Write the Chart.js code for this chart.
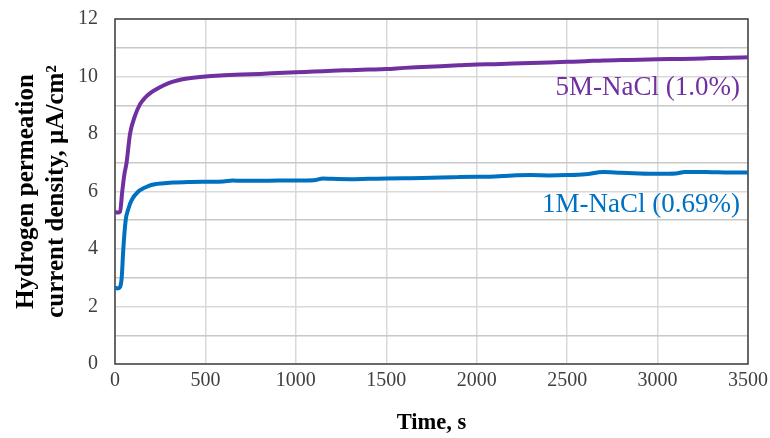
<!DOCTYPE html>
<html>
<head>
<meta charset="utf-8">
<script src="https://cdn.jsdelivr.net/npm/chart.js@4"></script>
<style>
  body { margin: 0; background: #fff; }
  #wrap { width: 770px; height: 438px; }
</style>
</head>
<body>
<div id="wrap"><canvas id="permChart"></canvas></div>
<script>
// 5M-NaCl run
const time5M = [0, 15, 28, 40, 52, 64, 83, 110, 138, 166, 200, 240, 300, 350, 400, 500, 600, 700, 800, 900,
  1000, 1100, 1200, 1300, 1400, 1500, 1600, 1700, 1800, 1900, 2000, 2100, 2200, 2300, 2400, 2500,
  2600, 2700, 2800, 2900, 3000, 3100, 3200, 3300, 3400, 3500];
const current5M = [5.28, 5.27, 5.30, 6.0, 6.6, 7.0, 8.0, 8.62, 9.03, 9.26, 9.45, 9.6, 9.78, 9.87, 9.93, 10.0, 10.04, 10.07, 10.09, 10.12,
  10.15, 10.17, 10.2, 10.22, 10.24, 10.26, 10.3, 10.33, 10.36, 10.39, 10.42, 10.43, 10.45, 10.47, 10.49, 10.51,
  10.53, 10.56, 10.57, 10.58, 10.6, 10.61, 10.62, 10.64, 10.65, 10.67];

// 1M-NaCl run
const time1M = [0, 15, 28, 37, 46, 59, 74, 92, 129, 160, 184, 220, 258, 320, 405, 500, 600, 650, 700, 800, 900,
  1000, 1100, 1150, 1200, 1300, 1400, 1500, 1600, 1700, 1800, 1900, 2000, 2100, 2200, 2300, 2400, 2500,
  2600, 2700, 2800, 2900, 3000, 3100, 3150, 3200, 3300, 3400, 3500];
const current1M = [2.65, 2.63, 2.68, 3.0, 4.0, 5.0, 5.4, 5.7, 6.0, 6.12, 6.19, 6.25, 6.28, 6.31, 6.33, 6.34, 6.35, 6.38, 6.37, 6.37, 6.38,
  6.38, 6.39, 6.45, 6.44, 6.43, 6.44, 6.45, 6.46, 6.47, 6.49, 6.5, 6.51, 6.52, 6.56, 6.57, 6.56, 6.57,
  6.6, 6.68, 6.65, 6.63, 6.62, 6.63, 6.68, 6.68, 6.67, 6.66, 6.66];

const seriesNames = ['5M-NaCl (1.0%)', '1M-NaCl (0.69%)'];
const seriesColors = ['#7030A0', '#0070C0'];

const serif = "'Liberation Serif', 'Times New Roman', serif";

function toPoints(xs, ys) {
  return xs.map((x, i) => ({ x: x, y: ys[i] }));
}

// frame around the plot area, drawn under the lines
const frame = {
  id: 'frame',
  beforeDatasetsDraw(chart) {
    const a = chart.chartArea;
    const ctx = chart.ctx;
    ctx.save();
    ctx.strokeStyle = '#404040';
    ctx.lineWidth = 1.5;
    ctx.strokeRect(a.left, a.top, a.right - a.left, a.bottom - a.top);
    ctx.restore();
  }
};

// in-plot series labels, anchored in data units
const labelSpots = [
  { x: 3456, y: 9.6 },
  { x: 3456, y: 5.53 }
];
const seriesLabels = {
  id: 'seriesLabels',
  afterDatasetsDraw(chart) {
    const ctx = chart.ctx;
    const xs = chart.scales.x, ys = chart.scales.y;
    ctx.save();
    ctx.font = '27px ' + serif;
    ctx.textAlign = 'right';
    ctx.textBaseline = 'middle';
    seriesNames.forEach((name, i) => {
      ctx.fillStyle = seriesColors[i];
      ctx.fillText(name, xs.getPixelForValue(labelSpots[i].x), ys.getPixelForValue(labelSpots[i].y));
    });
    ctx.restore();
  }
};

const ctx = document.getElementById('permChart').getContext('2d');

const chart = new Chart(ctx, {
  type: 'line',
  data: {
    datasets: [
      {
        label: seriesNames[0],
        data: toPoints(time5M, current5M),
        borderColor: seriesColors[0],
        borderWidth: 4,
        pointRadius: 0,
        cubicInterpolationMode: 'monotone'
      },
      {
        label: seriesNames[1],
        data: toPoints(time1M, current1M),
        borderColor: seriesColors[1],
        borderWidth: 4,
        pointRadius: 0,
        cubicInterpolationMode: 'monotone'
      }
    ]
  },
  options: {
    responsive: true,
    maintainAspectRatio: false,
    animation: false,
    layout: { padding: { top: 19, right: 22, left: 0, bottom: 0 } },
    plugins: {
      legend: { display: false },
      tooltip: { enabled: false }
    },
    scales: {
      x: {
        type: 'linear',
        min: 0,
        max: 3500,
        afterFit: (scale) => { scale.height = 74; },
        ticks: {
          stepSize: 500,
          color: '#404040',
          padding: 0,
          font: { family: serif, size: 20 },
          callback: (v) => String(v)
        },
        // invisible tick marks give the label gap without padding the chart edges
        grid: { color: '#d9d9d9', lineWidth: 1.5, drawTicks: true, tickLength: 5, tickColor: 'rgba(0,0,0,0)' },
        border: { display: false },
        title: {
          display: true,
          text: 'Time, s',
          color: '#000',
          font: { family: serif, size: 22.5, weight: 'bold' },
          padding: { top: 0, bottom: 1 }
        }
      },
      y: {
        min: 0,
        max: 12,
        afterFit: (scale) => { scale.width = 115; },
        ticks: {
          stepSize: 1,
          color: '#404040',
          padding: 0,
          font: { family: serif, size: 20 },
          callback: (v) => (v % 2 === 0 ? String(v) : '')
        },
        grid: {
          color: (c) => (c.tick && c.tick.value % 2 === 1 ? '#c8c8c8' : '#d9d9d9'),
          lineWidth: 1.5,
          drawTicks: true,
          tickLength: 17,
          tickColor: 'rgba(0,0,0,0)'
        },
        border: { display: false },
        title: {
          display: true,
          text: ['Hydrogen permeation', 'current density, µA/cm²'],
          color: '#000',
          font: { family: serif, size: 25, weight: 'bold', lineHeight: 1.2 },
          padding: { top: 12, bottom: 0 }
        }
      }
    }
  },
  plugins: [frame, seriesLabels]
});
</script>
</body>
</html>
